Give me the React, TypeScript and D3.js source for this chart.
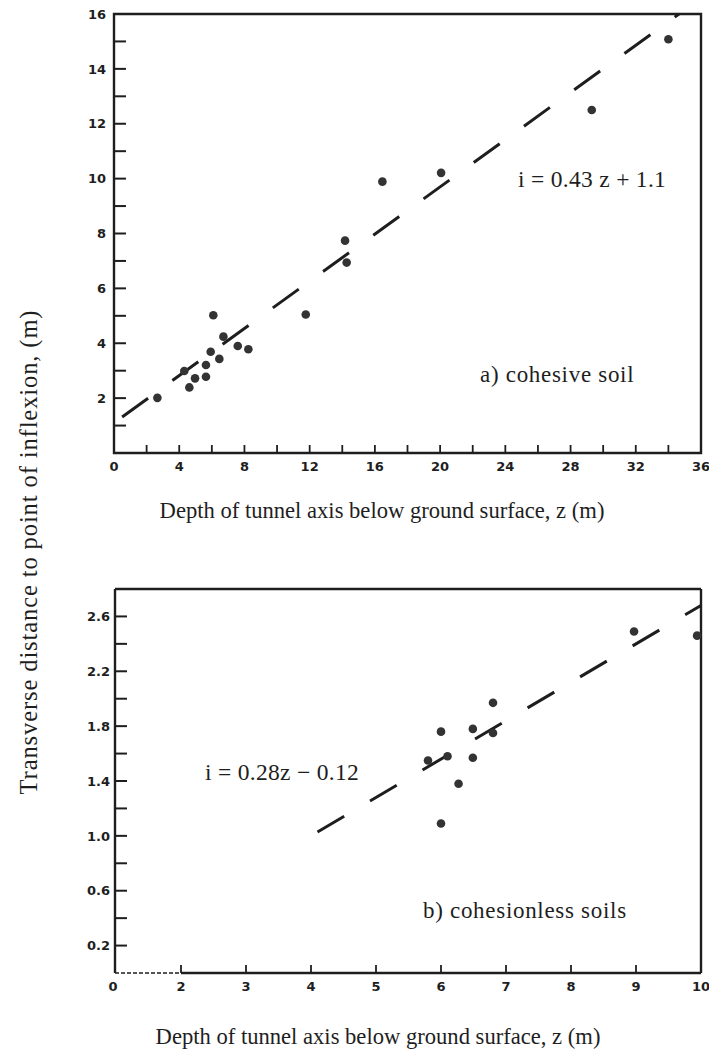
import React from "react";
import * as d3 from "d3";

// ---- Data: (a) cohesive soil ----
const cohesiveDepth = [2.66, 6.09, 6.71, 5.93, 6.46, 5.64, 4.31, 4.97, 5.64, 4.62, 7.59, 8.24, 11.76, 14.17, 14.27, 16.46, 20.06, 29.3, 34.0];
const cohesiveI = [2.01, 5.02, 4.24, 3.69, 3.43, 3.21, 2.99, 2.72, 2.78, 2.39, 3.9, 3.78, 5.05, 7.74, 6.94, 9.89, 10.21, 12.5, 15.08];
const cohesiveFit = { slope: 0.43, intercept: 1.1, zStart: 0.5 };

// ---- Data: (b) cohesionless soils ----
const cohesionlessDepth = [8.97, 9.94, 6.8, 6.0, 6.49, 6.8, 5.8, 6.1, 6.49, 6.27, 6.0];
const cohesionlessI = [2.49, 2.46, 1.97, 1.76, 1.78, 1.75, 1.55, 1.58, 1.57, 1.38, 1.09];
const cohesionlessFit = { slope: 0.28, intercept: -0.12, zStart: 4.1 };

// ---- Ticks ----
const topXTicks = [2, 4, 6, 8, 10, 12, 14, 16, 18, 20, 22, 24, 26, 28, 30, 32, 34];
const topXLabels = [0, 4, 8, 12, 16, 20, 24, 28, 32, 36];
const topYTicks = [1, 2, 3, 4, 5, 6, 7, 8, 9, 10, 11, 12, 13, 14, 15];
const topYLabels = [2, 4, 6, 8, 10, 12, 14, 16];

const botXTicks = [2, 3, 4, 5, 6, 7, 8, 9];
const botXLabels = [2, 3, 4, 5, 6, 7, 8, 9, 10];
const botYTicks = [0.2, 0.4, 0.6, 0.8, 1.0, 1.2, 1.4, 1.6, 1.8, 2.0, 2.2, 2.4, 2.6];
const botYLabels = [0.2, 0.6, 1.0, 1.4, 1.8, 2.2, 2.6];

const xTitle = "Depth of tunnel axis below ground surface, z (m)";
const yTitle = "Transverse distance to point of inflexion, (m)";

const tickFont = "'DejaVu Sans', sans-serif";
const serif = "'Liberation Serif', 'Times New Roman', serif";
const ink = "#1e1e1e";

export default function App() {
  // panel a
  const ax = d3.scaleLinear().domain([0, 36]).range([114, 701]);
  const ay = d3.scaleLinear().domain([0, 16]).range([453, 14]);
  // panel b (broken axis: origin labelled 0, linear from 2 to 10)
  const bx = d3.scaleLinear().domain([1, 10]).range([116, 701]);
  const by = d3.scaleLinear().domain([0, 2.8]).range([973, 589]);

  const line = d3.line<[number, number]>();

  const aEnd = (16 - cohesiveFit.intercept) / cohesiveFit.slope;
  const aFit: [number, number][] = [cohesiveFit.zStart, aEnd].map((z) => [ax(z), ay(cohesiveFit.slope * z + cohesiveFit.intercept)]);
  const bFit: [number, number][] = [cohesionlessFit.zStart, 10].map((z) => [bx(z), by(cohesionlessFit.slope * z + cohesionlessFit.intercept)]);

  const [ax0, ax1] = ax.range();
  const [ay0, ay1] = ay.range();
  const bOrigin = 115;
  const [, bx1] = bx.range();
  const [by0, by1] = by.range();

  return (
    <svg width={709} height={1052} style={{ position: "absolute", left: 0, top: 0, display: "block", background: "#fff" }}>
      {/* ===== Panel a ===== */}
      <g>
        <path d={`M${ax0},${ay0} L${ax0},${ay1} L${ax1},${ay1} L${ax1},${ay0} Z`} fill="none" stroke={ink} strokeWidth={2.4} />
        {topYTicks.map((v) => (
          <line key={"ayt" + v} x1={ax0} x2={ax0 + 12} y1={ay(v)} y2={ay(v)} stroke={ink} strokeWidth={2} />
        ))}
        {topYLabels.map((v) => (
          <text key={"ayl" + v} x={ax0 - 8} y={ay(v)} dy="0.36em" textAnchor="end" fontFamily={tickFont} fontWeight="bold" fontSize={13} fill={ink}>
            {v}
          </text>
        ))}
        {topXTicks.map((v) => (
          <line key={"axt" + v} x1={ax(v)} x2={ax(v)} y1={ay0} y2={ay0 - 8} stroke={ink} strokeWidth={1.8} />
        ))}
        {topXLabels.map((v) => (
          <text key={"axl" + v} x={ax(v)} y={ay0 + 18} textAnchor="middle" fontFamily={tickFont} fontWeight="bold" fontSize={13} fill={ink}>
            {v}
          </text>
        ))}
        <path d={line(aFit) || ""} fill="none" stroke={ink} strokeWidth={3} strokeDasharray="32 30" />
        {cohesiveDepth.map((z, i) => (
          <circle key={"ap" + i} cx={ax(z)} cy={ay(cohesiveI[i])} r={4.3} fill="#333" />
        ))}
        <text x={518} y={187} fontFamily={serif} fontSize={23.5} letterSpacing={0.3} fill={ink}>
          i = 0.43 z + 1.1
        </text>
        <text x={480} y={382} fontFamily={serif} fontSize={23} letterSpacing={0.7} fill={ink}>
          a) cohesive soil
        </text>
        <text x={382} y={518} textAnchor="middle" fontFamily={serif} fontSize={22.6} fill={ink}>
          {xTitle}
        </text>
      </g>

      {/* ===== Panel b ===== */}
      <g>
        <line x1={bOrigin} x2={bOrigin} y1={by0} y2={by1} stroke={ink} strokeWidth={2.4} />
        <line x1={bOrigin} x2={bx1} y1={by1} y2={by1} stroke={ink} strokeWidth={2.4} />
        <line x1={bx1} x2={bx1} y1={by1} y2={by0} stroke={ink} strokeWidth={2.4} />
        <line x1={bOrigin} x2={bx(2)} y1={by0} y2={by0} stroke={ink} strokeWidth={1.6} strokeDasharray="4 2" />
        <line x1={bx(2)} x2={bx1} y1={by0} y2={by0} stroke={ink} strokeWidth={2.4} />
        {botYTicks.map((v) => (
          <line key={"byt" + v} x1={bOrigin} x2={bOrigin + 12} y1={by(v)} y2={by(v)} stroke={ink} strokeWidth={2} />
        ))}
        {botYLabels.map((v) => (
          <text key={"byl" + v} x={bOrigin - 5} y={by(v)} dy="0.36em" textAnchor="end" fontFamily={tickFont} fontWeight="bold" fontSize={13} fill={ink}>
            {d3.format(".1f")(v)}
          </text>
        ))}
        {botXTicks.map((v) => (
          <line key={"bxt" + v} x1={bx(v)} x2={bx(v)} y1={by0} y2={by0 - 8} stroke={ink} strokeWidth={1.8} />
        ))}
        <text x={bOrigin - 2} y={by0 + 18} textAnchor="middle" fontFamily={tickFont} fontWeight="bold" fontSize={13} fill={ink}>
          0
        </text>
        {botXLabels.map((v) => (
          <text key={"bxl" + v} x={bx(v)} y={by0 + 18} textAnchor="middle" fontFamily={tickFont} fontWeight="bold" fontSize={13} fill={ink}>
            {v}
          </text>
        ))}
        <path d={line(bFit) || ""} fill="none" stroke={ink} strokeWidth={3} strokeDasharray="31 30" />
        {cohesionlessDepth.map((z, i) => (
          <circle key={"bp" + i} cx={bx(z)} cy={by(cohesionlessI[i])} r={4.3} fill="#333" />
        ))}
        <text x={205} y={780} fontFamily={serif} fontSize={23.5} letterSpacing={0.3} fill={ink}>
          i = 0.28z − 0.12
        </text>
        <text x={423} y={918} fontFamily={serif} fontSize={23} letterSpacing={0.7} fill={ink}>
          b) cohesionless soils
        </text>
        <text x={378} y={1044} textAnchor="middle" fontFamily={serif} fontSize={22.6} fill={ink}>
          {xTitle}
        </text>
      </g>

      {/* shared y title */}
      <text transform="translate(28,552) rotate(-90)" textAnchor="middle" dominantBaseline="central" fontFamily={serif} fontSize={24.5} letterSpacing={0.9} fill={ink}>
        {yTitle}
      </text>
    </svg>
  );
}
